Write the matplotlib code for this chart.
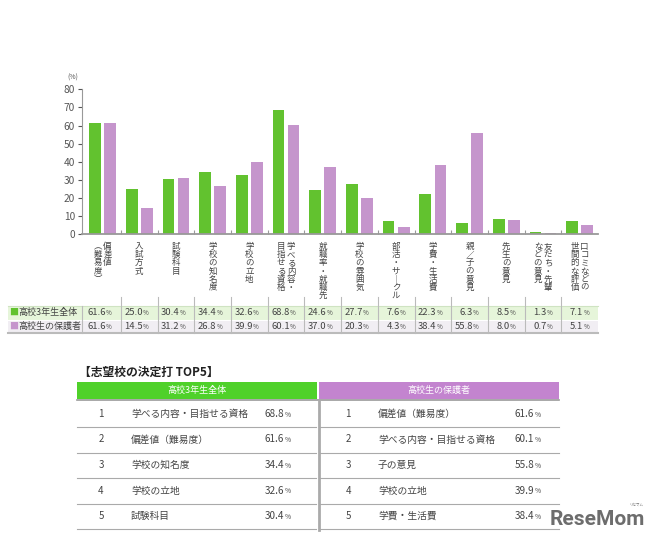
import numpy as np
import matplotlib
matplotlib.use('Agg')
import matplotlib.pyplot as plt
from matplotlib.patches import Rectangle
from matplotlib import transforms

plt.rcParams['font.family'] = ['Noto Sans CJK JP', 'DejaVu Sans']

# data
categories = ["偏差値\n(難易度)", "入試方式", "試験科目", "学校の知名度", "学校の立地",
              "学べる内容・\n目指せる資格", "就職率・就職先", "学校の雰囲気", "部活・サークル",
              "学費・生活費", "親／子の意見", "先生の意見", "友だち・先輩\nなどの意見",
              "口コミなどの\n世間的な評価"]
students = [61.6, 25.0, 30.4, 34.4, 32.6, 68.8, 24.6, 27.7, 7.6, 22.3, 6.3, 8.5, 1.3, 7.1]
parents = [61.6, 14.5, 31.2, 26.8, 39.9, 60.1, 37.0, 20.3, 4.3, 38.4, 55.8, 8.0, 0.7, 5.1]
series_names = ["高校3年生全体", "高校生の保護者"]

top5_title = "【志望校の決定打 TOP5】"
top5_students_items = ["学べる内容・目指せる資格", "偏差値（難易度）", "学校の知名度", "学校の立地", "試験科目"]
top5_students_vals = [68.8, 61.6, 34.4, 32.6, 30.4]
top5_parents_items = ["偏差値（難易度）", "学べる内容・目指せる資格", "子の意見", "学校の立地", "学費・生活費"]
top5_parents_vals = [61.6, 60.1, 55.8, 39.9, 38.4]

green = '#62c22f'
purple = '#c595cc'
txt = '#444444'

W, H = 661, 538
fig = plt.figure(figsize=(W / 100, H / 100), dpi=100)

# overlay in pixel coords (y down) for tables and labels
ov = fig.add_axes([0, 0, 1, 1])
ov.set_xlim(0, W)
ov.set_ylim(H, 0)
ov.axis('off')

# bar chart
ax = fig.add_axes([82 / W, (H - 234.3) / H, 516 / W, (234.3 - 89.3) / H])
ax.patch.set_alpha(0)
x = np.arange(len(categories))
ax.bar(x - 0.205, students, 0.32, color=green)
ax.bar(x + 0.205, parents, 0.32, color=purple)
ax.set_xlim(-0.56, 13.5)
ax.set_ylim(0, 80)
ax.set_yticks(range(0, 81, 10))
ax.set_xticks(np.arange(0.5, 13, 1))
ax.set_xticklabels([])
for s in ['top', 'right']:
    ax.spines[s].set_visible(False)
ax.spines['left'].set_color('#999999')
ax.spines['left'].set_linewidth(0.8)
ax.spines['bottom'].set_color('#999999')
ax.spines['bottom'].set_linewidth(1.3)
ax.tick_params(axis='y', labelsize=7.3, colors='#555555', length=3, width=0.8, pad=2)
ax.tick_params(axis='x', direction='in', length=3, width=0.8, colors='#999999')
ov.text(67, 78, "(%)", fontsize=5, color='#555555', va='center')

trans = transforms.blended_transform_factory(ax.transData, ov.transData)

# vertical category labels, one character at a time
for i, lab in enumerate(categories):
    cols = lab.split("\n")
    n = len(cols)
    for j, col in enumerate(cols):
        vert = col.replace("(", "︵").replace(")", "︶").replace("ー", "︱")
        dx = ((n - 1) / 2 - j) * 0.27
        for k, ch in enumerate(vert):
            ov.text(i + dx, 246.5 + k * 8.2, ch, transform=trans, ha='center', va='center',
                    fontsize=6.1, color=txt)

# data table under the chart
fills = ['#e6f5da', '#f1eef3']
row_h = 13.5
for r, (vals, fill, name, col) in enumerate(zip([students, parents], fills, series_names, [green, purple])):
    y0 = 306 + r * row_h
    ov.add_patch(Rectangle((8, y0), 74, row_h, fc=fill, ec='none'))
    ov.add_patch(Rectangle((-0.56, y0), 14.06, row_h, transform=trans, fc=fill, ec='none'))
    ov.text(9, y0 + row_h / 2, "■", color=col, fontsize=6.5, va='center')
    ov.text(18, y0 + row_h / 2, name, color=txt, fontsize=6.5, va='center')
    for i, v in enumerate(vals):
        ov.text(i + 0.1, y0 + row_h / 2, f"{v:.1f}", transform=trans, ha='right', va='center',
                fontsize=6.8, color=txt)
        ov.text(i + 0.1, y0 + row_h / 2 + 0.5, "%", transform=trans, ha='left', va='center',
                fontsize=4.5, color=txt)
ov.plot([8, 598], [306, 306], color='#cfe3c2', lw=0.8)
ov.plot([8, 598], [306 + row_h, 306 + row_h], color='#ffffff', lw=0.8)
ov.plot([8, 598], [306 + 2 * row_h, 306 + 2 * row_h], color='#bbbbbb', lw=1.5)
ov.plot([82, 82], [306, 306 + 2 * row_h], color='#bbbbbb', lw=0.8)
for b in np.arange(0.5, 13, 1):
    ov.plot([b, b], [297, 306 + 2 * row_h], transform=trans, color='#bbbbbb', lw=0.8)

# TOP5 tables
ov.text(79, 372, top5_title, fontsize=8.5, weight='bold', va='center', color='#222222')
ov.add_patch(Rectangle((77, 382), 240, 17, fc='#4fd12a', ec='none'))
ov.add_patch(Rectangle((319, 382), 240, 17, fc='#c384cf', ec='none'))
ov.text(197, 390.5, series_names[0], color='white', fontsize=6.5, ha='center', va='center')
ov.text(439, 390.5, series_names[1], color='white', fontsize=6.5, ha='center', va='center')
ov.plot([77, 559], [400, 400], color='#999999', lw=1.2)
ov.plot([318.5, 318.5], [400, 530], color='#aaaaaa', lw=2)

row_step = 25.5
for items, vals, x0, xr, xv in [(top5_students_items, top5_students_vals, 77, 101, 284),
                                (top5_parents_items, top5_parents_vals, 320, 348, 534)]:
    for k, (it, v) in enumerate(zip(items, vals)):
        yc = 414 + k * row_step
        ov.text(xr, yc, str(k + 1), fontsize=7, color=txt, ha='center', va='center')
        ov.text(xr + 30, yc, it, fontsize=7, color=txt, ha='left', va='center')
        ov.text(xv, yc, f"{v:.1f}", fontsize=7.2, color=txt, ha='right', va='center')
        ov.text(xv + 0.5, yc + 0.8, "%", fontsize=4.8, color=txt, ha='left', va='center')
        ov.plot([x0, x0 + 239], [yc + 13, yc + 13], color='#aaaaaa', lw=0.8)

# logo
ov.text(550, 525, "ReseMom", family=['Roboto', 'DejaVu Sans'], weight='bold',
        fontsize=15, color='#6d6d6d', va='baseline')
ov.text(636, 505, "リセマム", fontsize=2.5, color='#6d6d6d', ha='center', va='center')

fig.savefig('out.png', dpi=100)
